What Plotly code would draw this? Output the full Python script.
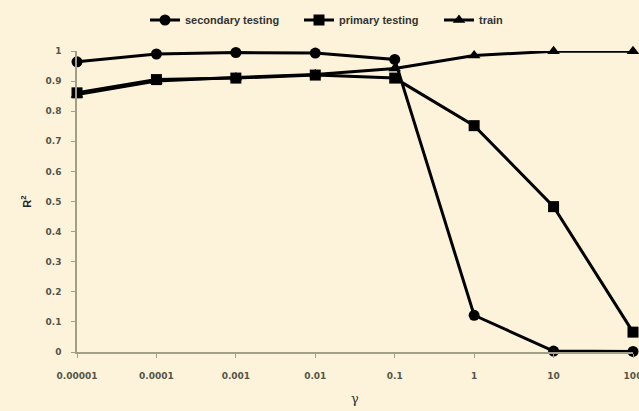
import plotly.graph_objects as go

gamma = [1e-5, 1e-4, 1e-3, 1e-2, 1e-1, 1, 10, 100]
tick_labels = ["0.00001", "0.0001", "0.001", "0.01", "0.1", "1", "10", "100"]
secondary = [0.964, 0.99, 0.995, 0.993, 0.972, 0.122, 0.003, 0.002]
primary = [0.861, 0.905, 0.91, 0.92, 0.91, 0.752, 0.483, 0.066]
train = [0.855, 0.90, 0.912, 0.922, 0.942, 0.985, 0.999, 0.999]

fig = go.Figure()
line = dict(color="black", width=3)
fig.add_trace(go.Scatter(x=gamma, y=secondary, name="secondary testing", mode="lines+markers", legend="legend",
                         line=line, marker=dict(symbol="circle", size=11, color="black"), cliponaxis=False))
fig.add_trace(go.Scatter(x=gamma, y=primary, name="primary testing", mode="lines+markers", legend="legend2",
                         line=line, marker=dict(symbol="square", size=11, color="black"), cliponaxis=False))
fig.add_trace(go.Scatter(x=gamma, y=train, name="train", mode="lines+markers", legend="legend3",
                         line=line, marker=dict(symbol="triangle-up", size=11, color="black"), cliponaxis=False))

bg = "#FDF3DA"
axcol = "#a09f88"
L, PW = 77, 556


def leg(px):
    return dict(orientation="h", x=(px - L) / PW, xanchor="left", y=1 + (51 - 20) / 301, yanchor="middle",
                font=dict(family="Liberation Sans", size=11, color="#333", weight="bold"),
                bgcolor="rgba(0,0,0,0)")


fig.update_layout(
    width=639, height=411,
    paper_bgcolor=bg, plot_bgcolor=bg,
    margin=dict(l=77, r=6, t=51, b=59),
    font=dict(family="DejaVu Sans", size=10, color="#444"),
    legend=leg(145), legend2=leg(299), legend3=leg(439),
    showlegend=True,
)
fig.update_xaxes(type="log", range=[-5, 2], tickvals=gamma, ticktext=tick_labels, automargin=False,
                 ticklabeloverflow="allow", ticklabelstandoff=10,
                 showgrid=False, zeroline=False, showline=True, linecolor=axcol, linewidth=1.5,
                 ticks="outside", ticklen=4, tickcolor=axcol,
                 tickfont=dict(family="DejaVu Sans", size=9, color="#555548", weight="bold"),
                 title=dict(text="γ", font=dict(family="DejaVu Serif", size=13, color="#333"), standoff=14))
fig.update_yaxes(range=[0, 1], dtick=0.1, tickformat="~g", automargin=False, ticklabelstandoff=8,
                 showgrid=False, zeroline=False, showline=True, linecolor=axcol, linewidth=1.5,
                 ticks="outside", ticklen=4, tickcolor=axcol,
                 tickfont=dict(family="DejaVu Sans", size=9, color="#555548", weight="bold"),
                 title=dict(text="<b>R<sup>2</sup></b>", font=dict(family="Liberation Sans", size=11, color="#222"), standoff=12))

fig.write_html("out.html", config={"displayModeBar": False},
               post_script="document.body.style.margin='0';document.body.style.background='#FDF3DA';")
